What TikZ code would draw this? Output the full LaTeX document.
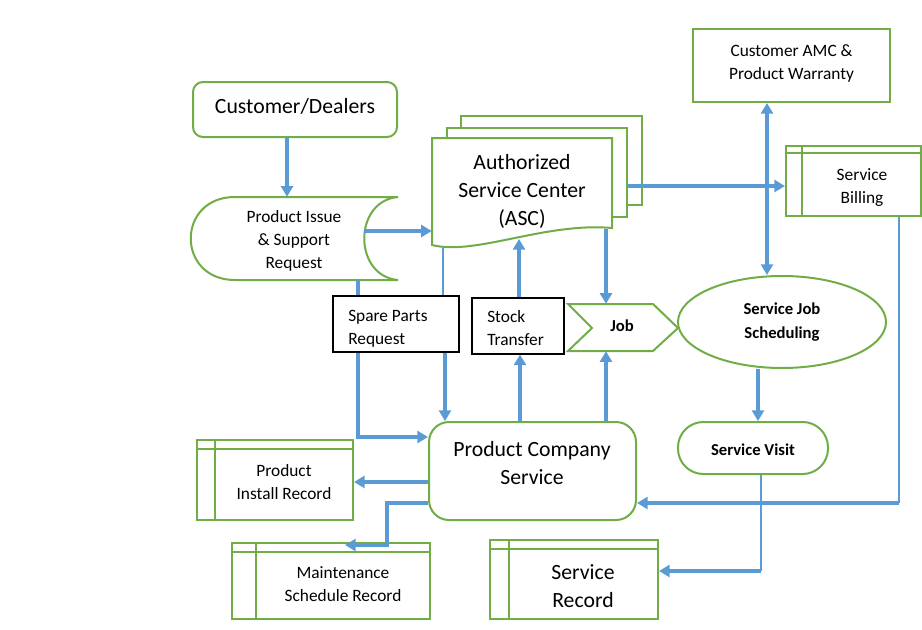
\documentclass[tikz,border=0pt]{standalone}
\usepackage{fontspec}
\setmainfont{Carlito}
\usetikzlibrary{arrows.meta,shapes.geometric}
\definecolor{grn}{HTML}{70AD47}
\definecolor{blu}{HTML}{5B9BD5}
\tikzset{
  gline/.style={draw=grn,line width=1.5pt},
  tipa/.tip={Triangle[length=8pt,width=9pt]},
  arr/.style={line width=2.3pt,draw=blu,-tipa},
  arrtwo/.style={line width=2.3pt,draw=blu,tipa-tipa},
  thinb/.style={line width=1pt,draw=blu},
  sm/.style={font=\fontsize{13}{17.25}\selectfont,align=center,inner sep=0pt},
  lg/.style={font=\fontsize{16.3}{21.3}\selectfont,align=center,inner sep=0pt},
  bsm/.style={font=\fontsize{12.5}{17.5}\selectfont\bfseries,align=center,inner sep=0pt},
  blk/.style={draw=black,line width=0.8pt,inner sep=0pt,fill=white},
}
\begin{document}
\begin{tikzpicture}[x=0.75pt,y=-0.75pt]
\useasboundingbox (0,0) rectangle (922,629);
% Customer/Dealers
\node[gline,rounded corners=7.5pt,minimum width=153pt,minimum height=41.25pt] (cd) at (295,109.5) {};
\node[lg] (cdt) at (295,106) {Customer/Dealers};
% Product issue (stored data)
\draw[gline,fill=white] (398,197) -- (235,197) .. controls (176,197) and (176,280) .. (235,280) -- (398,280) .. controls (353,276) and (353,201) .. (398,197);
\node[minimum width=155.25pt,minimum height=62.25pt,inner sep=0pt] (pi) at (294.5,238.5) {};
\node[sm] (pit) at (294,241) {Product Issue\\\& Support\\Request};
% ASC multi-document
\draw[gline,fill=white] (461,116) rectangle (642,205);
\draw[gline,fill=white] (447,128) rectangle (627,217);
\draw[gline,fill=white] (432,245) -- (432,138) -- (612,138) -- (612,228) .. controls (545,222) and (475,256) .. (432,245) -- cycle;
\node[lg,minimum width=135pt,minimum height=80.25pt] (asc) at (522,191.5) {Authorized\\Service Center\\(ASC)};
% Customer AMC
\node[gline,minimum width=147.75pt,minimum height=54.75pt] (amc) at (791.5,65.5) {};
\node[sm] (amct) at (791.5,63) {Customer AMC \&\\Product Warranty};
% Service Billing
\node[gline,minimum width=101.25pt,minimum height=52.5pt] (bill) at (853.5,181) {};
\draw[gline] ([xshift=12.75pt]bill.north west) -- ([xshift=12.75pt]bill.south west);
\draw[gline] ([yshift=-6pt]bill.north west) -- ([yshift=-6pt]bill.north east);
\node[sm] (billt) at (862,188) {Service\\Billing};
% Job
\draw[gline,fill=white] (568,304) -- (653,304) -- (678,328) -- (653,351) -- (568,351) -- (592,328) -- cycle;
\node[minimum width=82.5pt,minimum height=35.25pt,inner sep=0pt] (job) at (623,327.5) {};
\node[bsm] (jobt) at (622,325.5) {Job};
% Service Job Scheduling
\node[gline,ellipse,bsm,minimum width=156pt,minimum height=69pt] (sjs) at (782,322) {Service Job\\Scheduling};
% Service Visit
\node[gline,rounded corners=19pt,minimum width=112.5pt,minimum height=39pt] (sv) at (753,448) {};
\node[bsm] (svt) at (753,449.5) {Service Visit};
% Product Company Service
\node[gline,rounded corners=15pt,minimum width=155.25pt,minimum height=73.5pt] (pcs) at (532.5,471) {};
\node[lg] (pcst) at (532,463) {Product Company\\Service};
% Product Install Record
\node[gline,minimum width=117pt,minimum height=60pt] (pir) at (275,480) {};
\draw[gline] ([xshift=14.25pt]pir.north west) -- ([xshift=14.25pt]pir.south west);
\draw[gline] ([yshift=-7.5pt]pir.north west) -- ([yshift=-7.5pt]pir.north east);
\node[sm] (pirt) at (284,482) {Product\\Install Record};
% Maintenance Schedule Record
\node[gline,minimum width=148.5pt,minimum height=57pt] (msr) at (331,581) {};
\draw[gline] ([xshift=18.75pt]msr.north west) -- ([xshift=18.75pt]msr.south west);
\draw[gline] ([yshift=-7.5pt]msr.north west) -- ([yshift=-7.5pt]msr.north east);
\node[sm] (msrt) at (343,584) {Maintenance\\Schedule Record};
% Service Record
\node[gline,minimum width=126pt,minimum height=59.25pt] (sr) at (574,579.5) {};
\draw[gline] ([xshift=15pt]sr.north west) -- ([xshift=15pt]sr.south west);
\draw[gline] ([yshift=-7.5pt]sr.north west) -- ([yshift=-7.5pt]sr.north east);
\node[lg] (srt) at (583,586) {Service\\Record};
% helper coordinates
\coordinate (x287) at (287,0);
\coordinate (x358) at (358,0);
\coordinate (x445) at (445,0);
\coordinate (x520) at (520,0);
\coordinate (x519) at (519,0);
\coordinate (x606) at (606,0);
\coordinate (x767) at (767,0);
\coordinate (x758) at (758,0);
\coordinate (c437) at (0,437);
\coordinate (c482) at (0,482);
\coordinate (piR) at (364,231);
\coordinate (ascB1) at (443,247);
\coordinate (ascB2) at (519,239);
\coordinate (ascB3) at (606,229);
\coordinate (ascR) at (627,186);
\coordinate (bc) at (899,503);
\coordinate (vc) at (761,571);
\coordinate (m1) at (387,503);
\coordinate (m2) at (345,545);
% connector passing behind the Spare Parts box
\draw[arr] (pi.south -| x358) |- (pcs.west |- c437);
% Spare parts / Stock transfer
\node[blk,minimum width=94.5pt,minimum height=42pt] (spr) at (396,324) {};
\node[sm,align=left,anchor=west] (sprt) at (348,328.5) {Spare Parts\\Request};
\node[blk,minimum width=69pt,minimum height=42pt] (st) at (518,326) {};
\node[sm,align=left,anchor=west] (stt) at (487,328) {Stock\\Transfer};
% connectors
\draw[arr] (cd.south -| x287) -- (pi.north -| x287);
\draw[arr] (piR) -- (piR -| asc.west);
\draw[thinb] (ascB1) -- (spr.north -| ascB1);
\draw[arr] (spr.south -| x445) -- (pcs.north -| x445);
\draw[arr] (pcs.north -| x520) -- (st.south -| x520);
\draw[arr] (st.north -| x519) -- (ascB2);
\draw[arr] (ascB3) -- (job.north -| ascB3);
\draw[arr] (pcs.north -| x606) -- (job.south -| x606);
\draw[arr] (ascR) -- (bill.west |- ascR);
\draw[arrtwo] (amc.south -| x767) -- (sjs.north -| x767);
\draw[arr] (sjs.south -| x758) -- (sv.north -| x758);
\draw[thinb] (bill.south -| bc) -- (bc);
\draw[arr] (bc) -- (pcs.east |- bc);
\draw[thinb] (sv.south -| vc) -- (vc);
\draw[arr] (vc) -- (sr.east |- vc);
\draw[arr] (pcs.west |- c482) -- (pir.east |- c482);
\draw[arr] (pcs.west |- m1) -- (m1) |- (m2);
\end{tikzpicture}
\end{document}
